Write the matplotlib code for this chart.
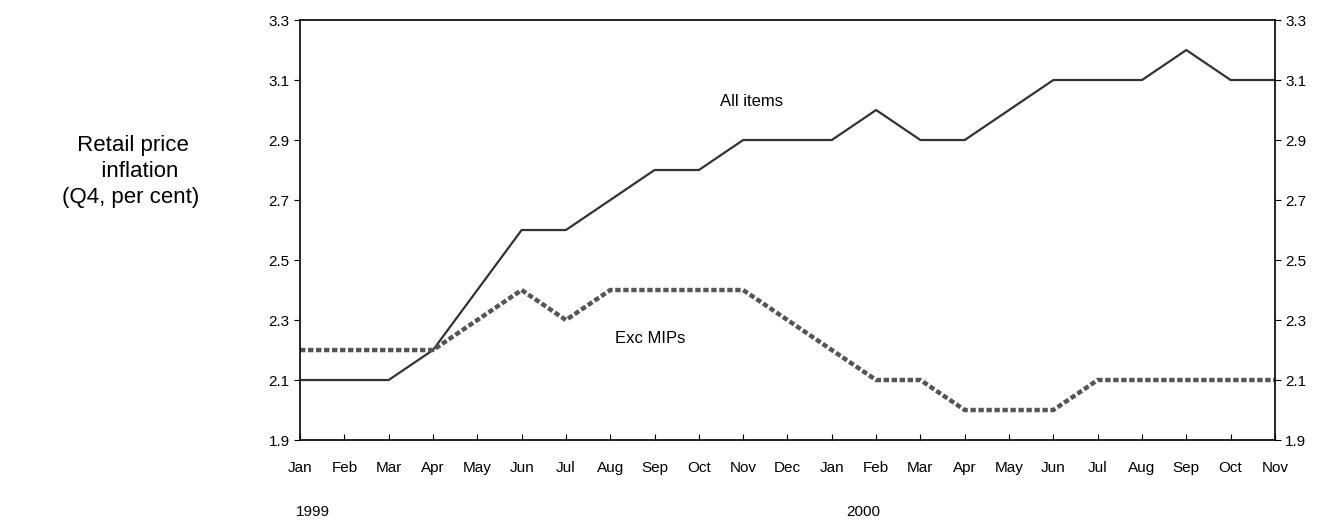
import matplotlib.pyplot as plt

months = ["Jan", "Feb", "Mar", "Apr", "May", "Jun", "Jul", "Aug", "Sep", "Oct", "Nov", "Dec",
          "Jan", "Feb", "Mar", "Apr", "May", "Jun", "Jul", "Aug", "Sep", "Oct", "Nov"]
all_items = [2.1, 2.1, 2.1, 2.2, 2.4, 2.6, 2.6, 2.7, 2.8, 2.8, 2.9, 2.9,
             2.9, 3.0, 2.9, 2.9, 3.0, 3.1, 3.1, 3.1, 3.2, 3.1, 3.1]
exc_mips = [2.2, 2.2, 2.2, 2.2, 2.3, 2.4, 2.3, 2.4, 2.4, 2.4, 2.4, 2.3,
            2.2, 2.1, 2.1, 2.0, 2.0, 2.0, 2.1, 2.1, 2.1, 2.1, 2.1]
yticks = [1.9, 2.1, 2.3, 2.5, 2.7, 2.9, 3.1, 3.3]

plt.rcParams['font.family'] = ['Liberation Sans', 'DejaVu Sans']
fig = plt.figure(figsize=(13.3, 5.2), dpi=100)
ax = fig.add_axes([0.2256, 0.1538, 0.733, 0.8077])
x = list(range(len(months)))
ax.plot(x, all_items, color="#333333", lw=1.6)
ax.plot(x, exc_mips, color="#555555", lw=3.2, ls=(0, (1.2, 0.6)))
ax.set_xlim(0, len(months) - 1)
ax.set_ylim(1.9, 3.3)
ax.set_yticks(yticks)
ax.set_yticklabels([f"{v:.1f}" for v in yticks], fontsize=11)
ax.set_xticks(x)
ax.set_xticklabels(months, fontsize=11)
ax.tick_params(axis="x", direction="in", length=4, pad=15)
ax.tick_params(axis="y", direction="out", length=4, right=True, labelright=True)
for s in ax.spines.values():
    s.set_linewidth(1.2)

ax.text(9.48, 3.03, "All items", fontsize=12, va="center")
ax.text(7.1, 2.24, "Exc MIPs", fontsize=12, va="center")
ax.text(0.3, 1.685, "1999", fontsize=11, ha="center", va="top")
ax.text(12.7, 1.685, "2000", fontsize=11, ha="center", va="top")
fig.text(0.098, 0.67, " Retail price\n   inflation\n(Q4, per cent)", fontsize=16,
         ha="center", va="center", linespacing=1.3)
fig.savefig("out.png")
